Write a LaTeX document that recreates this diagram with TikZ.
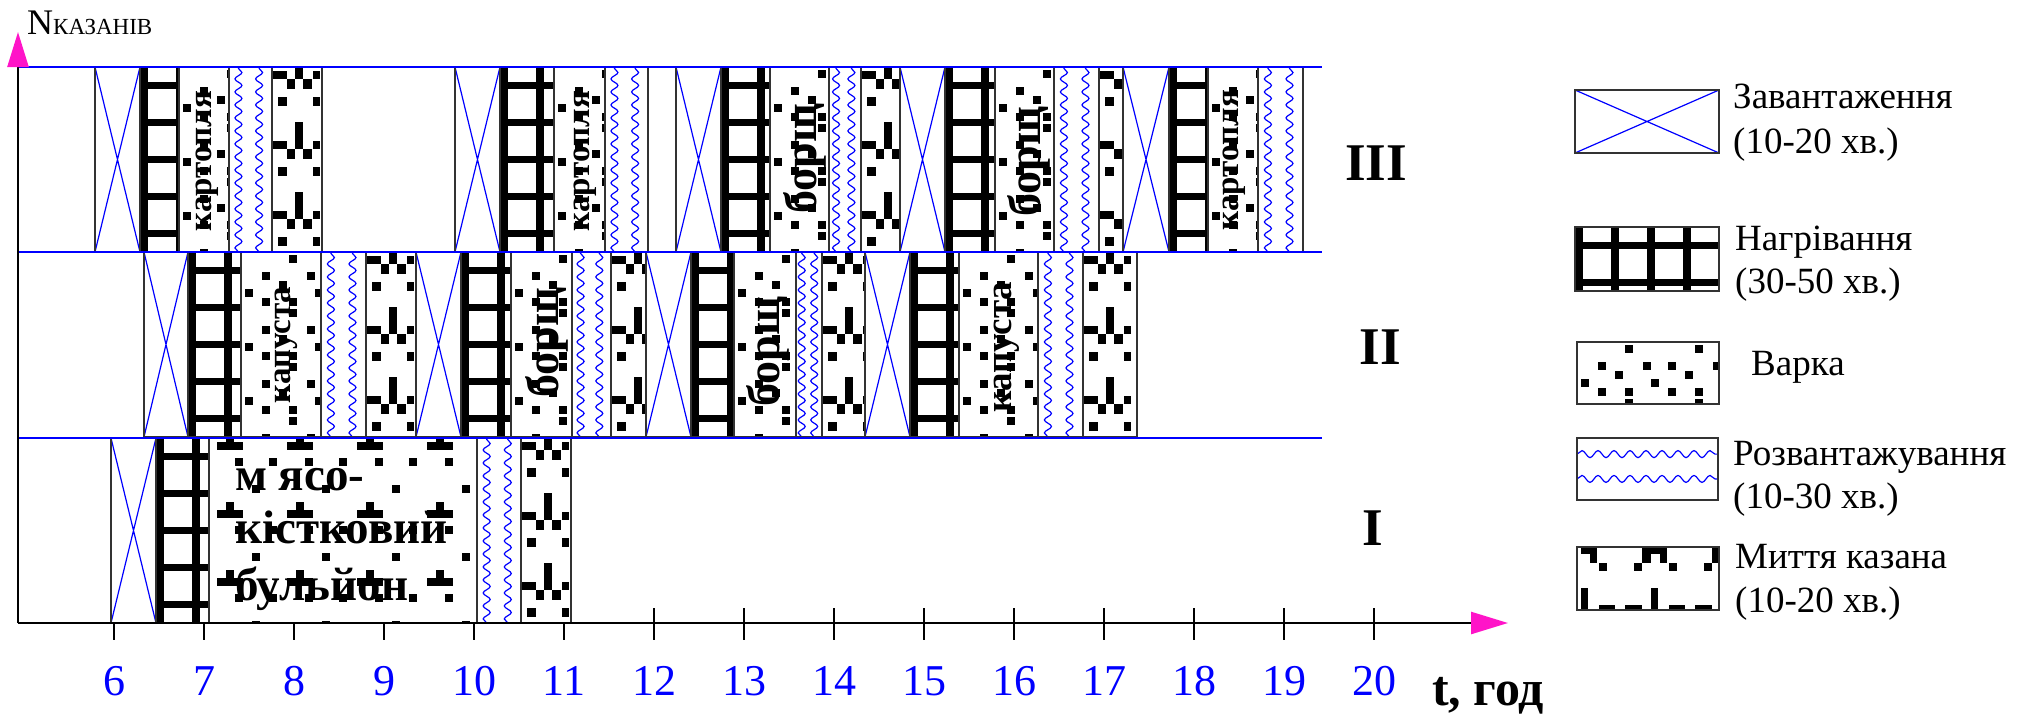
\documentclass[tikz,border=0pt]{standalone}
\usepackage{fontspec}
\setmainfont{Liberation Serif}
\usetikzlibrary{arrows.meta,calc,decorations.pathmorphing}
\definecolor{gantblue}{RGB}{0,0,255}
\definecolor{axispink}{RGB}{255,20,200}

\newcommand\tilefill[5]{%
  \foreach \i in {0,...,#3}{\foreach \j in {0,...,#4}{%
    \begin{scope}[shift={($(path picture bounding box.north west)+(\i*#1,\j*#2)$)}]#5\end{scope}}}}
\newcommand\heattile{\fill[black] (0,0) rectangle (8,37); \fill[black] (0,15) rectangle (36,22);}
\newcommand\cooktile{\foreach \p in {(48,3),(21,20),(66,20),(38,29),(4,37),(21,46),(48,46)}
  \fill[black] \p rectangle ++(8,8);}
\newcommand\brothtile{\fill[black] (8,4) rectangle (34,12); \fill[black] (17,-4) rectangle (25,4);
  \fill[black] (26,20) rectangle (34,28); \fill[black] (60,20) rectangle (68,28);
  \fill[black] (43,47) rectangle (51,55);}
\newcommand\washtile{\fill[black] (23,-15) rectangle (31,12);
  \fill[black] (0,4) rectangle (15,12); \fill[black] (41,4) rectangle (48,12);
  \fill[black] (15,12) rectangle (23,22); \fill[black] (31,12) rectangle (40,22);
  \fill[black] (6,30) rectangle (15,39); \fill[black] (41,30) rectangle (48,39);}
\newcommand\washkeytile{\fill[black] (4,0) rectangle (20,7); \fill[black] (13,7) rectangle (20,16);
  \fill[black] (22,16) rectangle (30,24); \fill[black] (57,16) rectangle (65,24);
  \fill[black] (65,0) rectangle (74,16); \fill[black] (4,41) rectangle (11,62);
  \fill[black] (22,58) rectangle (38,62); \fill[black] (48,58) rectangle (65,62);}

\begin{document}
\begin{tikzpicture}[x=1pt, y=-1pt,
  slot/.style={draw=black!80, line width=1.5pt, fill=white},
  loadbox/.style={slot, path picture={\draw[gantblue, line width=1.2pt]
      (path picture bounding box.north west) -- (path picture bounding box.south east)
      (path picture bounding box.south west) -- (path picture bounding box.north east);}},
  heatbox/.style={slot, path picture={\tilefill{36}{37}{4}{5}{\heattile}}},
  cookbox/.style={slot, path picture={\tilefill{70}{54}{2}{3}{\cooktile}}},
  brothbox/.style={slot, path picture={\tilefill{70}{68}{3}{2}{\brothtile}}},
  washbox/.style={slot, path picture={\tilefill{70}{70}{2}{2}{\washtile}}},
  washkey/.style={slot, path picture={\tilefill{70}{70}{2}{0}{\washkeytile}}},
  ripple/.style={gantblue, line width=1.2pt, decorate,
      decoration={snake, amplitude=3.5pt, segment length=13pt}},
  unloadbox/.style={slot, path picture={
      \draw[ripple] ($(path picture bounding box.south west)!.22!(path picture bounding box.south east)$)
        -- ($(path picture bounding box.north west)!.22!(path picture bounding box.north east)$);
      \draw[ripple] ($(path picture bounding box.south west)!.7!(path picture bounding box.south east)$)
        -- ($(path picture bounding box.north west)!.7!(path picture bounding box.north east)$);}},
  unloadkey/.style={slot, path picture={
      \draw[ripple, decoration={segment length=16pt}]
        ($(path picture bounding box.north west)!.26!(path picture bounding box.south west)$)
        -- ($(path picture bounding box.north east)!.26!(path picture bounding box.south east)$);
      \draw[ripple, decoration={segment length=16pt}]
        ($(path picture bounding box.north west)!.66!(path picture bounding box.south west)$)
        -- ($(path picture bounding box.north east)!.66!(path picture bounding box.south east)$);}},
  cooktext/.style={rotate=90, inner sep=0pt, font=\fontsize{33}{33}\selectfont\bfseries},
  borschtext/.style={cooktext, font=\fontsize{46}{46}\selectfont\bfseries},
  brothtext/.style={anchor=base west, inner sep=0pt, font=\fontsize{47}{47}\selectfont\bfseries},
  rowtext/.style={inner sep=0pt, font=\fontsize{53}{53}\selectfont\bfseries},
  keytext/.style={anchor=base west, inner sep=0pt, font=\fontsize{37}{44}\selectfont},
  hourtext/.style={inner sep=0pt, text=gantblue, font=\fontsize{44}{44}\selectfont},
  hourtick/.style={line width=2pt},
  rowline/.style={gantblue, line width=2pt},
  axisline/.style={line width=2.5pt}]
  \useasboundingbox (0,0) rectangle (2026,718);

  \foreach \h in {6,...,20}{
    \draw[hourtick] ({90*\h-426},608) -- ({90*\h-426},640);
    \node[hourtext] (h\h) at ({90*\h-426},681) {\h};
  }

  \foreach \a/\b/\t in {95/140/67, 455/500/67, 676/721/67, 900/945/67, 1123/1169/67,
      144/188/252, 416/461/252, 646/691/252, 865/910/252, 111/156/438}
    \draw[loadbox] (\a,\t) rectangle (\b,{\t+185});
  \foreach \a/\b/\t in {140/179/67, 500/554/67, 721/770/67, 945/995/67, 1169/1208/67,
      188/241/252, 461/511/252, 691/734/252, 910/959/252, 156/209/438}
    \draw[heatbox] (\a,\t) rectangle (\b,{\t+185});
  \foreach \a/\b/\t in {179/229/67, 554/605/67, 770/829/67, 995/1054/67, 1208/1258/67,
      241/321/252, 511/572/252, 734/796/252, 959/1038/252}
    \draw[cookbox] (\a,\t) rectangle (\b,{\t+185});
  \draw[brothbox] (209,438) rectangle (477,623);
  \foreach \a/\b/\t in {229/272/67, 605/648/67, 829/861/67, 1054/1099/67, 1258/1303/67,
      321/366/252, 572/611/252, 796/822/252, 1038/1083/252, 477/521/438}
    \draw[unloadbox] (\a,\t) rectangle (\b,{\t+185});
  \foreach \a/\b/\t in {272/322/67, 861/900/67, 1099/1123/67,
      366/416/252, 611/646/252, 822/865/252, 1083/1137/252, 521/571/438}
    \draw[washbox] (\a,\t) rectangle (\b,{\t+185});

  \node[cooktext] (k1) at (207,161) {картопля};
  \node[cooktext] (k2) at (585,161) {картопля};
  \node[borschtext] (b1) at (805,159) {борщ};
  \node[borschtext] (b2) at (1029,162) {борщ};
  \node[cooktext] (k3) at (1234,160) {картопля};
  \node[cooktext] (c1) at (286,345) {капуста};
  \node[borschtext] (b3) at (547,343) {борщ};
  \node[borschtext] (b4) at (768,352) {борщ};
  \node[cooktext, font=\fontsize{37}{37}\selectfont\bfseries] (c2) at (1007,347) {капуста};
  \node[brothtext] (m1) at (235,490) {м ясо-};
  \node[brothtext] (m2) at (235,543) {кістковий};
  \node[brothtext] (m3) at (235,600) {бульйон};

  \foreach \y in {67,252,438}
    \draw[rowline] (18,\y) -- (1322,\y);

  \coordinate (o) at (18,623);
  \coordinate (xend) at (1508,623);
  \coordinate (yend) at (18,32);
  \draw[axisline, -{Triangle[length=37pt, width=22pt, color=axispink]}] (o) -- (xend);
  \draw[axisline, -{Triangle[length=35pt, width=21pt, color=axispink]}] (o) -- (yend);
  \node[anchor=base west, inner sep=0pt, font=\fontsize{36}{36}\selectfont] (nlab) at (27,34)
    {N{\fontsize{23}{23}\selectfont КАЗАНІВ}};
  \node[anchor=base west, inner sep=0pt, font=\fontsize{50}{50}\selectfont\bfseries] (tlab) at (1432,705) {t, год};

  \node[rowtext] (r3) at (1376,163) {III};
  \node[rowtext] (r2) at (1380,347) {II};
  \node[rowtext] (r1) at (1373,528) {I};

  \draw[loadbox] (1575,90) rectangle (1719,153);
  \draw[heatbox] (1575,227) rectangle (1719,291);
  \draw[cookbox] (1577,342) rectangle (1719,404);
  \draw[unloadkey] (1577,438) rectangle (1718,500);
  \draw[washkey] (1577,547) rectangle (1719,610);
  \node[keytext] (l1a) at (1733,108) {Завантаження};
  \node[keytext] (l1b) at (1733,153) {(10-20 хв.)};
  \node[keytext] (l2a) at (1735,250) {Нагрівання};
  \node[keytext] (l2b) at (1735,293) {(30-50 хв.)};
  \node[keytext] (l3) at (1751,375) {Варка};
  \node[keytext] (l4a) at (1733,465) {Розвантажування};
  \node[keytext] (l4b) at (1733,508) {(10-30 хв.)};
  \node[keytext] (l5a) at (1735,568) {Миття казана};
  \node[keytext] (l5b) at (1735,612) {(10-20 хв.)};
\end{tikzpicture}
\end{document}
